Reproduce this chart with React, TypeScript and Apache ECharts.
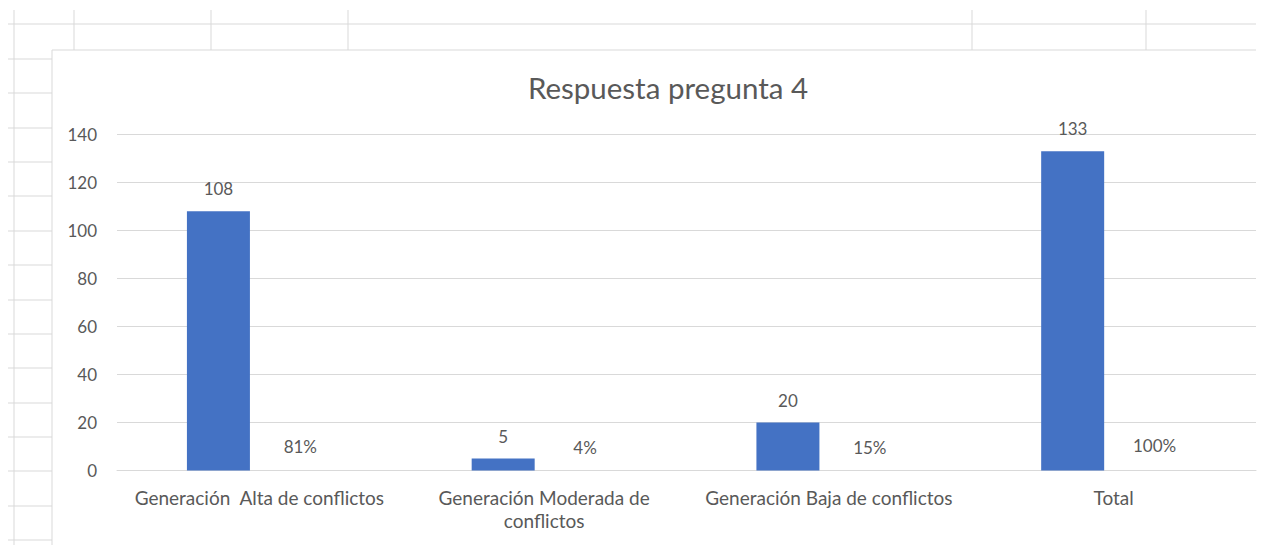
import React, { useEffect, useRef } from "react";
import * as echarts from "echarts";

const titleText = "Respuesta pregunta 4";
const categories = [
  "Generación  Alta de conflictos",
  "Generación Moderada de\nconflictos",
  "Generación Baja de conflictos",
  "Total",
];
const counts = [108, 5, 20, 133];
const shares = [0.81, 0.04, 0.15, 1.0];
const yTicks = { min: 0, max: 140, interval: 20 };

const GRID = "#d9d9d9";
const TEXT = "#595959";
const FONT = "Lato, 'Open Sans', sans-serif";

// decorative spreadsheet cell lines behind the chart
const sheetTopCols = [74, 211, 348, 972, 1146];
const sheetLeftRows = Array.from({ length: 15 }, (_, i) => 59 + i * 34.36);

export default function App() {
  const ref = useRef<HTMLDivElement>(null);
  useEffect(() => {
    if (!ref.current) return;
    const chart = echarts.init(ref.current, undefined, { renderer: "svg" });
    const lineStyle = { stroke: GRID, lineWidth: 1 };
    const graphics: any[] = [
      { type: "rect", shape: { x: 0, y: 0, width: 1265, height: 545 }, style: { fill: "#fff" }, z: -20 },
      { type: "line", shape: { x1: 14, y1: 10, x2: 14, y2: 545 }, style: lineStyle, z: -10 },
      { type: "line", shape: { x1: 8, y1: 24, x2: 1256, y2: 24 }, style: lineStyle, z: -10 },
      ...sheetTopCols.map((x) => ({ type: "line", shape: { x1: x, y1: 10, x2: x, y2: 50 }, style: lineStyle, z: -10 })),
      ...sheetLeftRows.map((y) => ({ type: "line", shape: { x1: 8, y1: Math.round(y), x2: 52, y2: Math.round(y) }, style: lineStyle, z: -10 })),
      { type: "line", shape: { x1: 52, y1: 50, x2: 1256, y2: 50 }, style: lineStyle, z: -10 },
      { type: "line", shape: { x1: 52, y1: 50, x2: 52, y2: 545 }, style: lineStyle, z: -10 },
    ];
    chart.setOption({
      animation: false,
      backgroundColor: "#fff",
      textStyle: { fontFamily: FONT, color: TEXT },
      title: {
        text: titleText,
        left: 663,
        top: 67,
        textAlign: "center",
        textStyle: { fontFamily: FONT, fontWeight: "normal", fontSize: 29.5, color: TEXT },
      },
      graphic: graphics,
      grid: { left: 117, right: 9, top: 134.5, bottom: 74.5, containLabel: false },
      xAxis: {
        type: "category",
        data: categories,
        axisLine: { show: true, lineStyle: { color: GRID, width: 1 } },
        axisTick: { show: false },
        axisLabel: { color: TEXT, fontFamily: FONT, fontSize: 19, lineHeight: 23, margin: 15, interval: 0 },
      },
      yAxis: {
        type: "value",
        min: yTicks.min,
        max: yTicks.max,
        interval: yTicks.interval,
        axisLine: { show: false },
        axisTick: { show: false },
        splitLine: { lineStyle: { color: GRID, width: 1 } },
        axisLabel: { color: TEXT, fontFamily: FONT, fontSize: 17, margin: 20 },
      },
      series: [
        {
          type: "bar",
          data: counts,
          barWidth: 63,
          barGap: "30%",
          itemStyle: { color: "#4472C4" },
          label: { show: true, position: "top", distance: 14, color: TEXT, fontFamily: FONT, fontSize: 17 },
        },
        {
          type: "bar",
          data: shares,
          barWidth: 63,
          itemStyle: { color: "rgba(0,0,0,0)" },
          label: {
            show: true,
            position: "top",
            distance: 14,
            color: TEXT,
            fontFamily: FONT,
            fontSize: 17,
            formatter: (p: any) => Math.round(p.value * 100) + "%",
          },
        },
      ],
    });
    return () => chart.dispose();
  }, []);
  return <div ref={ref} style={{ position: "absolute", left: 0, top: 0, width: 1265, height: 545 }} />;
}
